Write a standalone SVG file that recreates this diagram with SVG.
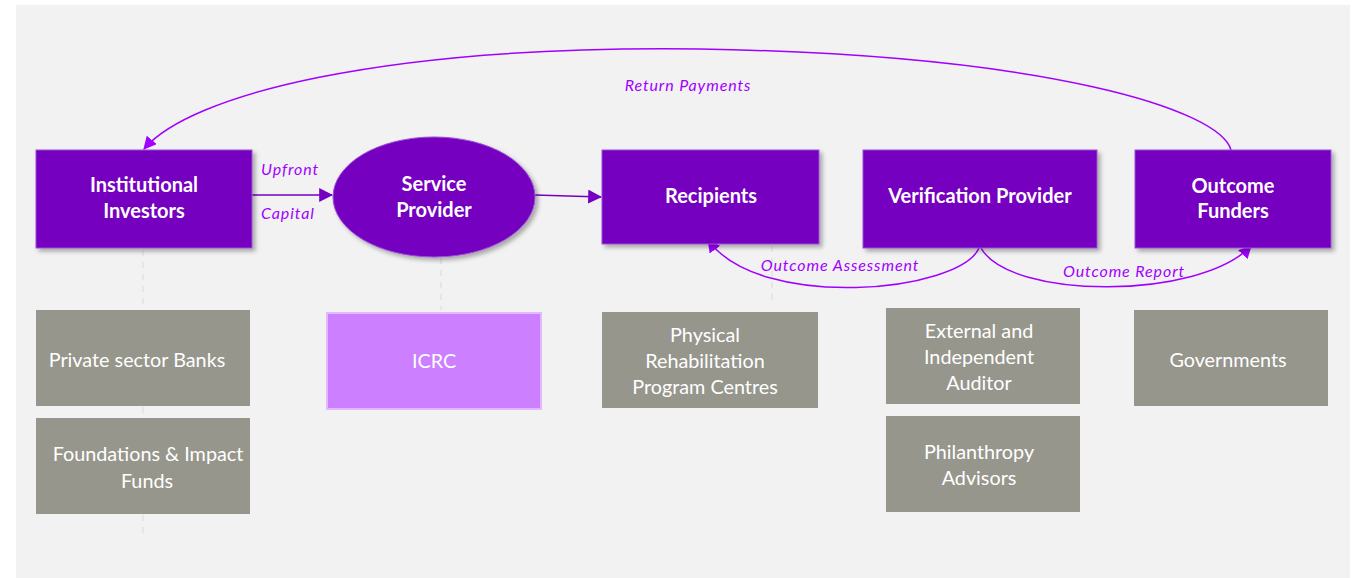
<svg xmlns="http://www.w3.org/2000/svg" width="1360" height="578" viewBox="0 0 1360 578">
  <defs>
    <style>
      .panel { fill: #f2f2f2; }
      .main { fill: #7500c0; stroke: #9a4fd6; stroke-width: 1; filter: url(#shadow); }
      .sub { fill: #96968c; }
      .icrc { fill: #cc80ff; stroke: #e3b8ff; stroke-width: 2; }
      .title { font-family: Lato, "Liberation Sans", sans-serif; font-weight: bold; font-size: 20px; fill: #ffffff; text-anchor: middle; }
      .item { font-family: Lato, "Liberation Sans", sans-serif; font-size: 19.8px; fill: #ffffff; text-anchor: middle; }
      .flow { font-family: Lato, "Liberation Sans", sans-serif; font-style: italic; font-size: 16px; fill: #a100ff; letter-spacing: 0.9px; }
      .link { fill: none; stroke: #a100ff; stroke-width: 1.5; }
      .solid { fill: none; stroke: #7500c0; stroke-width: 1.6; }
      .tie { fill: none; stroke: #d9d9d9; stroke-width: 1; stroke-dasharray: 6 6; }
    </style>
    <filter id="shadow" x="-10%" y="-10%" width="125%" height="130%">
      <feDropShadow dx="3" dy="3" stdDeviation="2" flood-color="#000000" flood-opacity="0.3"/>
    </filter>
    <marker id="arrBright" viewBox="0 0 12 12" refX="11" refY="6" markerWidth="13" markerHeight="13" markerUnits="userSpaceOnUse" orient="auto">
      <path d="M0,0 L12,6 L0,12 Z" fill="#a100ff"/>
    </marker>
    <marker id="arrDark" viewBox="0 0 12 12" refX="11" refY="6" markerWidth="14" markerHeight="14" markerUnits="userSpaceOnUse" orient="auto">
      <path d="M0,0 L12,6 L0,12 Z" fill="#7500c0"/>
    </marker>
  </defs>

  <rect class="panel" x="16" y="5" width="1334" height="573"/>

  <!-- faint dashed ties from headers to their members -->
  <g id="ties">
    <path class="tie" d="M143,250 V308 M143,407 V417 M143,515 V536"/>
    <path class="tie" d="M441,246 V310"/>
    <path class="tie" d="M772,246 V300"/>
  </g>

  <!-- flows between parties -->
  <g id="connectors">
    <path class="solid" d="M252,195 L332,195" marker-end="url(#arrDark)"/>
    <path class="solid" d="M535,195 L601,197" marker-end="url(#arrDark)"/>
    <path class="link" d="M1231,150 C1220,110 1050,55 700,49 C380,45 190,95 144,149" marker-end="url(#arrBright)"/>
    <path class="link" d="M979,248 C960,292 760,312 708,240" marker-end="url(#arrBright)"/>
    <path class="link" d="M981,248 C1010,300 1200,300 1251,246" marker-end="url(#arrBright)"/>
    <text class="flow" x="261" y="175">Upfront</text>
    <text class="flow" x="261" y="219">Capital</text>
    <text class="flow" x="688" y="91" text-anchor="middle">Return Payments</text>
    <text class="flow" x="840" y="271" text-anchor="middle">Outcome Assessment</text>
    <text class="flow" x="1124" y="277" text-anchor="middle">Outcome Report</text>
  </g>

  <g id="institutional-investors">
    <rect class="main" x="36" y="150" width="216" height="98"/>
    <text class="title" x="144" y="192">Institutional</text>
    <text class="title" x="144" y="218">Investors</text>
  </g>

  <g id="service-provider">
    <ellipse class="main" cx="434" cy="197" rx="101" ry="60"/>
    <text class="title" x="434" y="191">Service</text>
    <text class="title" x="434" y="217">Provider</text>
  </g>

  <g id="recipients">
    <rect class="main" x="602" y="150" width="217" height="94"/>
    <text class="title" x="711" y="203">Recipients</text>
  </g>

  <g id="verification-provider">
    <rect class="main" x="863" y="150" width="234" height="98"/>
    <text class="title" x="980" y="203">Verification Provider</text>
  </g>

  <g id="outcome-funders">
    <rect class="main" x="1135" y="150" width="196" height="98"/>
    <text class="title" x="1233" y="193">Outcome</text>
    <text class="title" x="1233" y="218">Funders</text>
  </g>

  <g id="private-sector-banks">
    <rect class="sub" x="36" y="310" width="214" height="96"/>
    <text class="item" x="137" y="367">Private sector Banks</text>
  </g>

  <g id="foundations-impact-funds">
    <rect class="sub" x="36" y="418" width="214" height="96"/>
    <text class="item" x="148" y="461">Foundations &amp; Impact</text>
    <text class="item" x="147" y="488">Funds</text>
  </g>

  <g id="icrc">
    <rect class="icrc" x="327" y="313" width="214" height="96"/>
    <text class="item" x="434" y="368">ICRC</text>
  </g>

  <g id="rehabilitation-centres">
    <rect class="sub" x="602" y="312" width="216" height="96"/>
    <text class="item" x="705" y="342">Physical</text>
    <text class="item" x="705" y="368">Rehabilitation</text>
    <text class="item" x="705" y="394">Program Centres</text>
  </g>

  <g id="independent-auditor">
    <rect class="sub" x="886" y="308" width="194" height="96"/>
    <text class="item" x="979" y="338">External and</text>
    <text class="item" x="979" y="364">Independent</text>
    <text class="item" x="979" y="390">Auditor</text>
  </g>

  <g id="philanthropy-advisors">
    <rect class="sub" x="886" y="416" width="194" height="96"/>
    <text class="item" x="979" y="459">Philanthropy</text>
    <text class="item" x="979" y="485">Advisors</text>
  </g>

  <g id="governments">
    <rect class="sub" x="1134" y="310" width="194" height="96"/>
    <text class="item" x="1228" y="367">Governments</text>
  </g>
</svg>
